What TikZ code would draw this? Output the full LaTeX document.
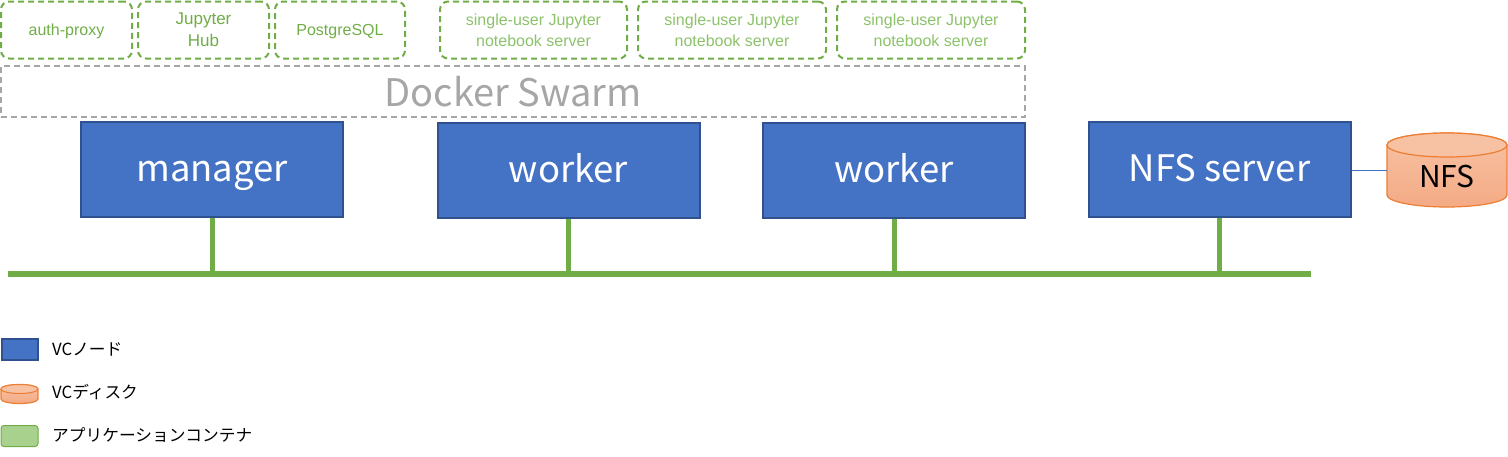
\documentclass[tikz,border=0pt]{standalone}
\usepackage{fontspec}
\setmainfont{Liberation Sans}
\newfontfamily\jp{Noto Sans CJK JP}
\definecolor{nodeblue}{HTML}{4472C4}
\definecolor{nodeborder}{HTML}{2F528F}
\definecolor{cgreen}{HTML}{70AD47}
\definecolor{lgreen}{HTML}{8CC26A}
\definecolor{legreen}{HTML}{A9D18E}
\definecolor{swgray}{HTML}{A6A6A6}
\definecolor{diskborder}{HTML}{ED7D31}
\definecolor{disktop}{HTML}{F7C2A4}
\definecolor{diskbot}{HTML}{F4AA85}
\tikzset{
  vcnode/.style={draw=nodeborder, line width=2pt, fill=nodeblue, text=white,
    minimum width=262pt, minimum height=95pt, inner sep=0pt,
    text height=33pt, text depth=9pt,
    font=\jp\fontsize{36.5}{38}\selectfont},
  container/.style={draw=cgreen, line width=2pt, dash pattern=on 6pt off 4pt,
    rounded corners=8pt, minimum height=57pt, inner sep=0pt, align=center,
    font=\fontsize{16}{21}\selectfont},
  lowtext/.style={text depth=0pt},
  swarm/.style={draw=swgray, line width=2pt, dash pattern=on 6pt off 4pt,
    minimum width=1024pt, minimum height=51pt, inner sep=0pt, text=swgray,
    font=\jp\fontsize{38}{40}\selectfont},
  bus/.style={cgreen, line width=6pt},
  drop/.style={cgreen, line width=5pt},
  legtext/.style={anchor=west, inner sep=0pt, font=\jp\fontsize{16.7}{18}\selectfont},
  disk/.style={draw=diskborder, line width=1.2pt, top color=disktop, bottom color=diskbot},
}
\begin{document}
\begin{tikzpicture}[x=1pt,y=-1pt]
\useasboundingbox (0,0) rectangle (1508,456);
% containers
\node[container, lowtext, minimum width=131pt, text=cgreen] (auth) at (66.5,30) {auth-proxy};
\node[container, lowtext, minimum width=131pt, text=cgreen, font=\fontsize{17}{22}\selectfont] (hub) at (203.5,30) {Jupyter\\Hub};
\node[container, lowtext, minimum width=130pt, text=cgreen] (pg) at (340,30) {PostgreSQL};
\node[container, minimum width=187pt, text=lgreen] (su1) at (533.5,30) {single-user Jupyter\\notebook server};
\node[container, minimum width=188pt, text=lgreen] (su2) at (732,30) {single-user Jupyter\\notebook server};
\node[container, minimum width=188pt, text=lgreen] (su3) at (931,30) {single-user Jupyter\\notebook server};
% docker swarm
\node[swarm] (swarm) at (513,91.5) {Docker Swarm};
% VC nodes
\node[vcnode] (manager) at (212,169.5) {manager};
\node[vcnode] (worker1) at (568.5,170.5) {worker};
\node[vcnode] (worker2) at (894,170.5) {worker};
\node[vcnode] (nfsserver) at (1219.5,169.5) {NFS server};
% bus
\coordinate (busL) at (8,274);
\coordinate (busR) at (1311,274);
\draw[bus] (busL) -- (busR);
\foreach \n in {manager,worker1,worker2,nfsserver}{
  \draw[drop] (\n.south) -- (\n.south |- busL);
}
% NFS disk
\draw[disk] (1387,145) -- (1387,195) arc (180:0:60 and 12) -- (1507,145) arc (0:-180:60 and 12) -- cycle;
\draw[draw=diskborder, line width=1.2pt, fill=disktop] (1447,145) ellipse (60 and 12);
\node[inner sep=0pt, font=\jp\fontsize{30}{32}\selectfont] (nfs) at (1447,176) {NFS};
\coordinate (diskleft) at (1387,170);
\draw[nodeblue, line width=1pt] (nfsserver.east |- diskleft) -- (diskleft);
% legend
\node[draw=nodeborder, line width=2pt, fill=nodeblue, minimum width=36pt, minimum height=21pt, inner sep=0pt] (legnode) at (19.5,349.5) {};
\node[legtext] (legnodet) at (52,349) {VCノード};
\draw[disk] (1,389) -- (1,399) arc (180:0:18.5 and 4.5) -- (38,389) arc (0:-180:18.5 and 4.5) -- cycle;
\draw[draw=diskborder, line width=1pt, fill=disktop] (19.5,389) ellipse (18.5 and 4.5);
\node[legtext] (legdiskt) at (52,392) {VCディスク};
\node[draw=cgreen, line width=1pt, fill=legreen, rounded corners=3pt, minimum width=37pt, minimum height=21pt, inner sep=0pt] (legcont) at (19.5,436) {};
\node[legtext] (legcontt) at (52,435) {アプリケーションコンテナ};
\end{tikzpicture}
\end{document}
